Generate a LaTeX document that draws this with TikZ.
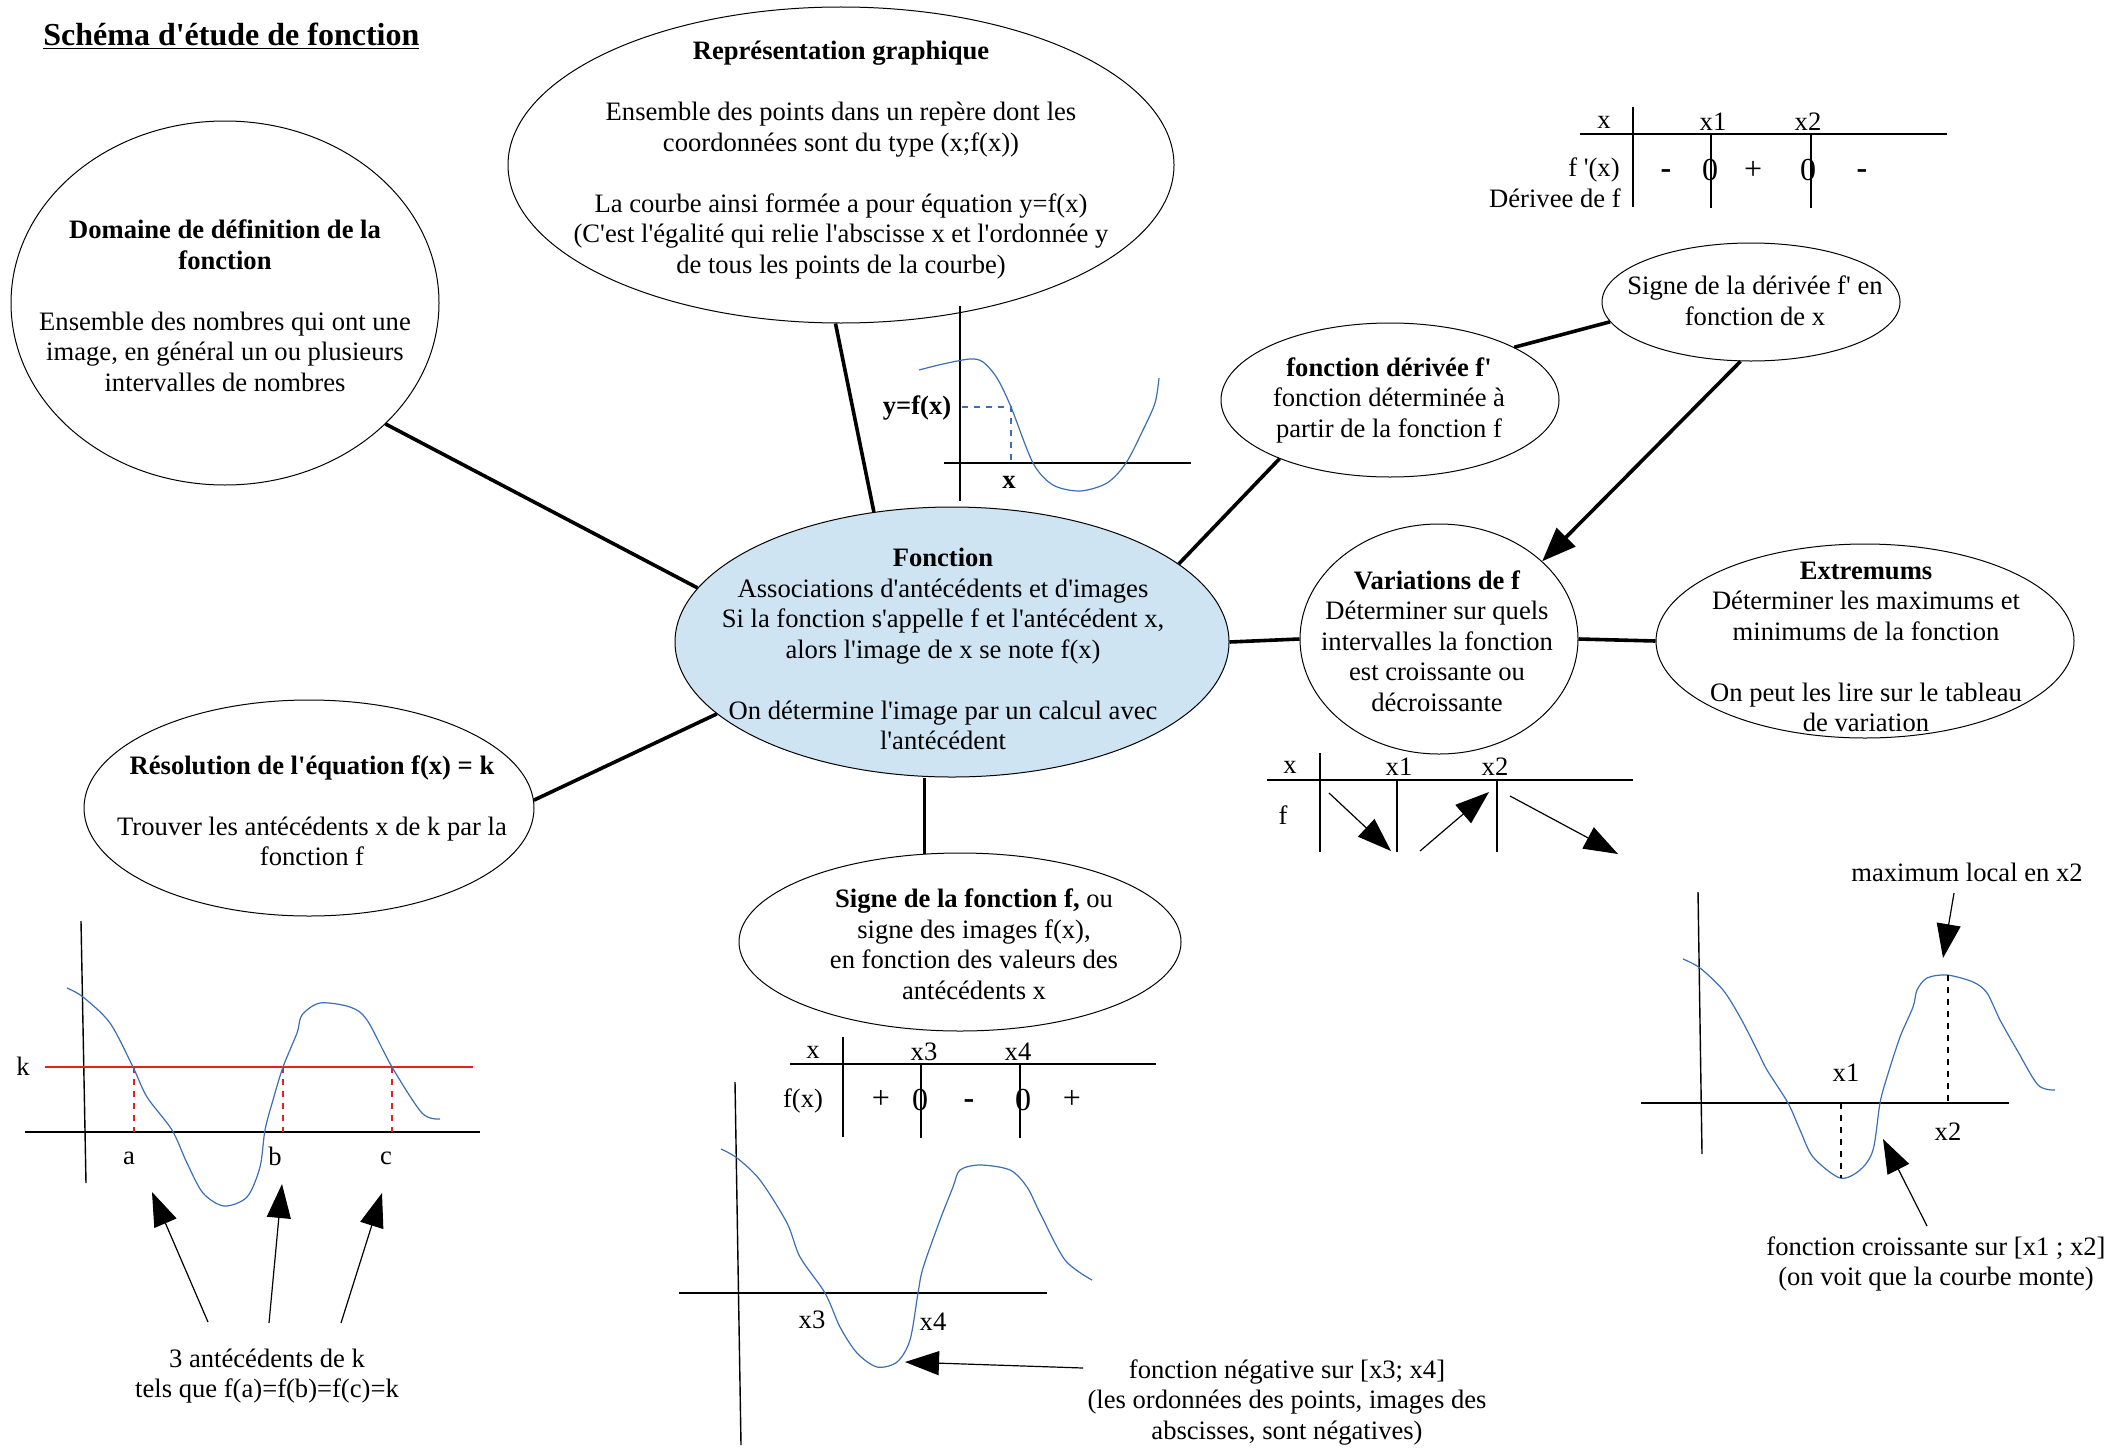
\documentclass[tikz,border=0pt]{standalone}
\usepackage{fontspec}
\setmainfont{Liberation Serif}[Ligatures=TeXOff]
\usetikzlibrary{shapes.geometric,arrows.meta,calc}
\definecolor{fblue}{RGB}{207,228,242}
\definecolor{cblue}{RGB}{60,110,180}
\definecolor{kred}{RGB}{235,30,30}
\begin{document}
\begin{tikzpicture}[x=0.5pt,y=-0.5pt,
  bubble/.style={ellipse, draw, line width=0.5pt, inner sep=0pt},
  txt/.style={align=center, inner sep=0pt, font=\fontsize{13.3}{15.25}\selectfont},
  lab/.style={inner sep=0pt, font=\fontsize{13.3}{15.25}\selectfont},
  sgn/.style={inner sep=0pt, font=\fontsize{16}{18}\selectfont},
  link/.style={line width=1.8pt},
  bigarrow/.style={line width=0.6pt, -{Triangle[length=17pt,width=12pt]}},
  axis/.style={line width=0.7pt},
  curve/.style={cblue, line width=0.6pt},
  tab/.style={line width=0.7pt},
]
\useasboundingbox (0,0) rectangle (2112,1450);

% title
\node[anchor=west, inner sep=0pt, font=\bfseries\fontsize{16}{19}\selectfont] (title) at (43,36) {\underline{Schéma d'étude de fonction}};

% ellipses
\node[bubble, minimum width=214pt, minimum height=182pt] (dom) at (225,303) {};
\node[txt] (domt) at (225,306) {\textbf{Domaine de définition de la}\\\textbf{fonction}\\[15.25pt]Ensemble des nombres qui ont une\\image, en général un ou plusieurs\\intervalles de nombres};

\node[bubble, minimum width=333pt, minimum height=158pt] (rep) at (841,165) {};
\node[txt] (rept) at (841,160) {\textbf{Représentation graphique}\\[15.25pt]Ensemble des points dans un repère dont les\\coordonnées sont du type (x;f(x))\\[15.25pt]La courbe ainsi formée a pour équation y=f(x)\\(C'est l'égalité qui relie l'abscisse x et l'ordonnée y\\de tous les points de la courbe)};

\node[bubble, fill=fblue, minimum width=277pt, minimum height=135pt] (fonc) at (952,642) {};
\node[txt] (fonct) at (943,649) {\textbf{Fonction}\\Associations d'antécédents et d'images\\Si la fonction s'appelle f et l'antécédent x,\\alors l'image de x se note f(x)\\[15.25pt]On détermine l'image par un calcul avec\\l'antécédent};

\node[bubble, minimum width=169pt, minimum height=77pt] (der) at (1390,400) {};
\node[txt] (dert) at (1389,400) {\textbf{fonction dérivée f'}\\fonction déterminée à\\partir de la fonction f};

\node[bubble, minimum width=149pt, minimum height=59pt] (sd) at (1751,302) {};
\node[txt] (sdt) at (1755,301) {Signe de la dérivée f' en\\fonction de x};

\node[bubble, minimum width=139pt, minimum height=115pt] (var) at (1439,639) {};
\node[txt] (vart) at (1437,641) {\textbf{Variations de f}\\Déterminer sur quels\\intervalles la fonction\\est croissante ou\\décroissante};

\node[bubble, minimum width=209pt, minimum height=97pt] (ext) at (1865,641) {};
\node[txt] (extt) at (1866,647) {\textbf{Extremums}\\Déterminer les maximums et\\minimums de la fonction\\[15.25pt]On peut les lire sur le tableau\\de variation};

\node[bubble, minimum width=225pt, minimum height=108pt] (res) at (309,808) {};
\node[txt] (rest) at (312,811) {\textbf{Résolution de l'équation f(x) = k}\\[15.25pt]Trouver les antécédents x de k par la\\fonction f};

\node[bubble, minimum width=221pt, minimum height=89pt] (sf) at (960,942) {};
\node[txt] (sft) at (974,944) {\textbf{Signe de la fonction f,} ou\\signe des images f(x),\\en fonction des valeurs des\\antécédents x};

% connectors
\draw[link] (dom.-37.4) -- (fonc.168.6);
\draw[link] (rep.-92) -- (fonc.121);
\draw[link] (fonc.19.5) -- (der.-152);
\draw[link] (der.23) -- (sd.-172);
\draw[link, -{Triangle[length=17pt,width=13pt]}] (sd.-100.6) -- (var.37.8);
\draw[link] (fonc.east) -- (var.west);
\draw[link] (var.east) -- (ext.west);
\draw[link] (fonc.-163.7) -- (res.2.8);
\draw[link] (sf.112) -- (sf.112 |- fonc.south);

% graph A (representation)
\draw[axis] (960,306) -- (960,501);
\draw[axis] (944,463) -- (1191,463);
\draw[curve] plot[smooth] coordinates {(919,370) (943,364) (970,359) (983,362) (997,378) (1011,407) (1033,463) (1053,485) (1080,491) (1107,483) (1126,463) (1143,430) (1155,403) (1159,378)};
\draw[curve, dashed] (962,407) -- (1011,407) -- (1011,463);
\node[lab, font=\bfseries\fontsize{13.3}{15.25}\selectfont] (yfx) at (917,408) {y=f(x)};
\node[lab, font=\bfseries\fontsize{13.3}{15.25}\selectfont] (xa) at (1009,482) {x};

% derivative sign table
\draw[tab] (1580,134) -- (1947,134);
\draw[tab] (1633,107) -- (1633,207);
\draw[tab] (1711,134) -- (1711,208);
\draw[tab] (1811,134) -- (1811,208);
\node[lab] (dx) at (1604,122) {x};
\node[lab] (dx1) at (1713,122) {x1};
\node[lab] (dx2) at (1808,122) {x2};
\node[lab, anchor=east] (dfp) at (1620,170) {f '(x)};
\node[lab, anchor=east] (dder) at (1621,198) {Dérivee de f};
\node[sgn] (ds1) at (1666,174) {\textbf{-}};
\node[sgn] (dz1) at (1710,170) {0};
\node[sgn] (ds2) at (1753,170) {+};
\node[sgn] (dz2) at (1808,170) {0};
\node[sgn] (ds3) at (1862,174) {\textbf{-}};

% variation table
\draw[tab] (1267,780) -- (1633,780);
\draw[tab] (1320,753) -- (1320,852);
\draw[tab] (1397,780) -- (1397,852);
\draw[tab] (1497,780) -- (1497,852);
\node[lab] (vx) at (1290,767) {x};
\node[lab] (vx1) at (1399,767) {x1};
\node[lab] (vx2) at (1495,767) {x2};
\node[lab] (vf) at (1283,815) {f};
\draw[bigarrow] (1329,793) -- (1391,851);
\draw[bigarrow] (1420,851) -- (1489,792);
\draw[bigarrow] (1510,796) -- (1618,854);

% graph B (equation f(x)=k)
\draw[axis] (81,921) -- (86,1183);
\draw[axis] (25,1132) -- (480,1132);
\draw[kred, line width=0.6pt] (45,1067) -- (473,1067);
\draw[kred, dashed, line width=0.6pt] (134,1067) -- (134,1132);
\draw[kred, dashed, line width=0.6pt] (283,1067) -- (283,1132);
\draw[kred, dashed, line width=0.6pt] (392,1067) -- (392,1132);
\draw[curve] plot[smooth] coordinates {(67,988) (83,997) (110,1023) (133,1067) (147,1097) (172,1130) (187,1163) (203,1193) (224,1206) (247,1197) (260,1167) (265,1130) (273,1100) (283,1067) (297,1033) (302,1015) (320,1003) (350,1007) (367,1020) (392,1067) (422,1113) (440,1119)};
\node[lab] (lk) at (23,1066) {k};
\node[lab] (la) at (129,1158) {a};
\node[lab] (lb) at (275,1156) {b};
\node[lab] (lc) at (386,1158) {c};
\node[txt] (antec) at (267,1376) {3 antécédents de k\\tels que f(a)=f(b)=f(c)=k};
\coordinate (pa) at (152,1192);
\coordinate (pb) at (282,1184);
\coordinate (pc) at (382,1193);
\draw[bigarrow] (208,1322) -- (pa);
\draw[bigarrow] (269,1323) -- (pb);
\draw[bigarrow] (341,1323) -- (pc);

% sign table
\draw[tab] (790,1064) -- (1156,1064);
\draw[tab] (843,1037) -- (843,1137);
\draw[tab] (921,1064) -- (921,1138);
\draw[tab] (1020,1064) -- (1020,1138);
\node[lab] (sx) at (813,1052) {x};
\node[lab] (sx3) at (924,1052) {x3};
\node[lab] (sx4) at (1018,1052) {x4};
\node[lab] (sfx) at (803,1101) {f(x)};
\node[sgn] (ss1) at (881,1099) {+};
\node[sgn] (sz1) at (920,1100) {0};
\node[sgn] (ss2) at (969,1104) {\textbf{-}};
\node[sgn] (sz2) at (1023,1100) {0};
\node[sgn] (ss3) at (1072,1099) {+};

% graph C (sign)
\draw[axis] (735,1082) -- (741,1445);
\draw[axis] (679,1293) -- (1047,1293);
\draw[curve] plot[smooth] coordinates {(721,1149) (737,1158) (760,1180) (787,1223) (800,1257) (825,1293) (840,1327) (857,1353) (877,1367) (897,1362) (910,1340) (918,1293) (923,1268) (940,1220) (953,1187) (960,1170) (980,1165) (1010,1170) (1027,1187) (1040,1213) (1065,1260) (1092,1280)};
\node[lab] (cx3) at (812,1320) {x3};
\node[lab] (cx4) at (933,1322) {x4};
\node[txt] (neg) at (1287,1402) {fonction négative sur [x3; x4]\\(les ordonnées des points, images des\\abscisses, sont négatives)};
\coordinate (pneg) at (905,1362);
\draw[bigarrow] (1083,1368) -- (pneg);

% graph D (extremum)
\draw[axis] (1698,892) -- (1702,1154);
\draw[axis] (1641,1103) -- (2009,1103);
\draw[curve] plot[smooth] coordinates {(1683,959) (1700,968) (1723,990) (1740,1017) (1757,1050) (1767,1070) (1788,1103) (1800,1130) (1813,1157) (1840,1178) (1860,1170) (1873,1150) (1880,1103) (1887,1077) (1900,1037) (1913,1007) (1917,990) (1927,978) (1947,975) (1973,982) (1987,993) (2000,1020) (2017,1050) (2038,1085) (2055,1090)};
\draw[dashed, line width=0.6pt] (1841,1103) -- (1841,1178);
\draw[dashed, line width=0.6pt] (1948,975) -- (1948,1103);
\node[lab] (ex1) at (1846,1073) {x1};
\node[lab] (ex2) at (1948,1132) {x2};
\node[lab] (maxl) at (1967,872) {maximum local en x2};
\coordinate (pmax) at (1943,958);
\draw[bigarrow] (1954,893) -- (pmax);
\node[txt] (crois) at (1936,1264) {fonction croissante sur [x1 ; x2]\\(on voit que la courbe monte)};
\coordinate (pcr) at (1883,1139);
\draw[bigarrow] (1927,1226) -- (pcr);
\end{tikzpicture}
\end{document}
